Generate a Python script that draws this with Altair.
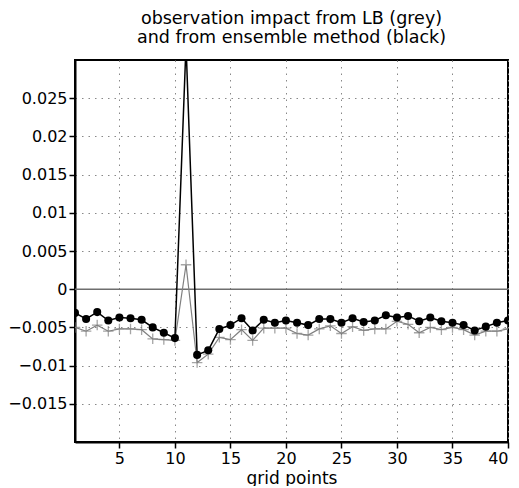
import altair as alt
import pandas as pd

grid_x = list(range(1, 41))
ensemble_black = [
    -0.0031, -0.0039, -0.0030, -0.0041, -0.0037, -0.0038, -0.0040, -0.0050, -0.0057, -0.0064,
    0.0320, -0.0086, -0.0080, -0.0052, -0.0047, -0.0038, -0.0054, -0.0040, -0.0044, -0.0041,
    -0.0044, -0.0047, -0.0039, -0.0039, -0.0044, -0.0038, -0.0043, -0.0041, -0.0034, -0.0037,
    -0.0035, -0.0042, -0.0037, -0.0042, -0.0044, -0.0047, -0.0054, -0.0049, -0.0044, -0.0041,
]
lb_grey = [
    -0.0050, -0.0055, -0.0047, -0.0055, -0.0052, -0.0052, -0.0053, -0.0065, -0.0066, -0.0067,
    0.0032, -0.0096, -0.0085, -0.0063, -0.0066, -0.0053, -0.0067, -0.0051, -0.0051, -0.0051,
    -0.0058, -0.0060, -0.0052, -0.0048, -0.0058, -0.0049, -0.0054, -0.0052, -0.0052, -0.0042,
    -0.0046, -0.0057, -0.0050, -0.0053, -0.0050, -0.0053, -0.0060, -0.0055, -0.0055, -0.0052,
]
x_ticks = [5, 10, 15, 20, 25, 30, 35, 40]
y_ticks = [-0.015, -0.01, -0.005, 0, 0.005, 0.01, 0.015, 0.02, 0.025]
title_lines = ["observation impact from LB (grey)", "and from ensemble method (black)"]

df = pd.DataFrame({"x": grid_x, "black": ensemble_black, "grey": lb_grey})

FONT = "DejaVu Sans"

xenc = alt.X(
    "x:Q",
    scale=alt.Scale(domain=[1, 40], nice=False, zero=False),
    axis=alt.Axis(values=x_ticks, title="grid points", format="d"),
)

def yenc(field):
    return alt.Y(
        f"{field}:Q",
        scale=alt.Scale(domain=[-0.02, 0.03], nice=False, zero=False),
        axis=alt.Axis(values=y_ticks, format="~g", title=None),
    )

base = alt.Chart(df)

zero_line = alt.Chart(pd.DataFrame({"z": [0]})).mark_rule(
    color="#6e6e6e", strokeWidth=1.6
).encode(y=alt.Y("z:Q", scale=alt.Scale(domain=[-0.02, 0.03], nice=False)))

grey_line = base.mark_line(color="#808080", strokeWidth=1.2, clip=True).encode(x=xenc, y=yenc("grey"))
grey_pts = base.mark_point(
    shape="M-1,0L1,0M0,-1L0,1", filled=False, color="#808080", strokeWidth=1.3, size=110, clip=True
).encode(x=xenc, y=yenc("grey"))
black_line = base.mark_line(color="black", strokeWidth=1.5, clip=True).encode(x=xenc, y=yenc("black"))
black_pts = base.mark_circle(color="black", size=65, opacity=1, clip=True).encode(x=xenc, y=yenc("black"))

chart = (
    alt.layer(zero_line, grey_line, grey_pts, black_line, black_pts)
    .properties(
        width=433,
        height=382,
        title=alt.TitleParams(
            text=title_lines,
            font=FONT,
            fontSize=17.5,
            fontWeight="normal",
            color="black",
            anchor="middle",
            offset=14,
            lineHeight=19,
        ),
        padding={"left": 67, "top": 52, "right": 3, "bottom": 44},
        autosize=alt.AutoSizeParams(type="none"),
    )
    .configure_view(stroke="black", strokeWidth=2)
    .configure_axis(
        grid=True,
        gridColor="#888888",
        gridDash=[1.5, 5],
        gridWidth=1,
        domainColor="black",
        domainWidth=2,
        tickColor="black",
        tickWidth=1.5,
        tickSize=6,
        labelFont=FONT,
        labelFontSize=16,
        labelColor="black",
        labelPadding=2,
        titleFont=FONT,
        titleFontSize=17,
        titleFontWeight="normal",
        titleColor="black",
        titlePadding=4,
    )
)

chart.save("out.html", embed_options={"renderer": "svg", "actions": False})
